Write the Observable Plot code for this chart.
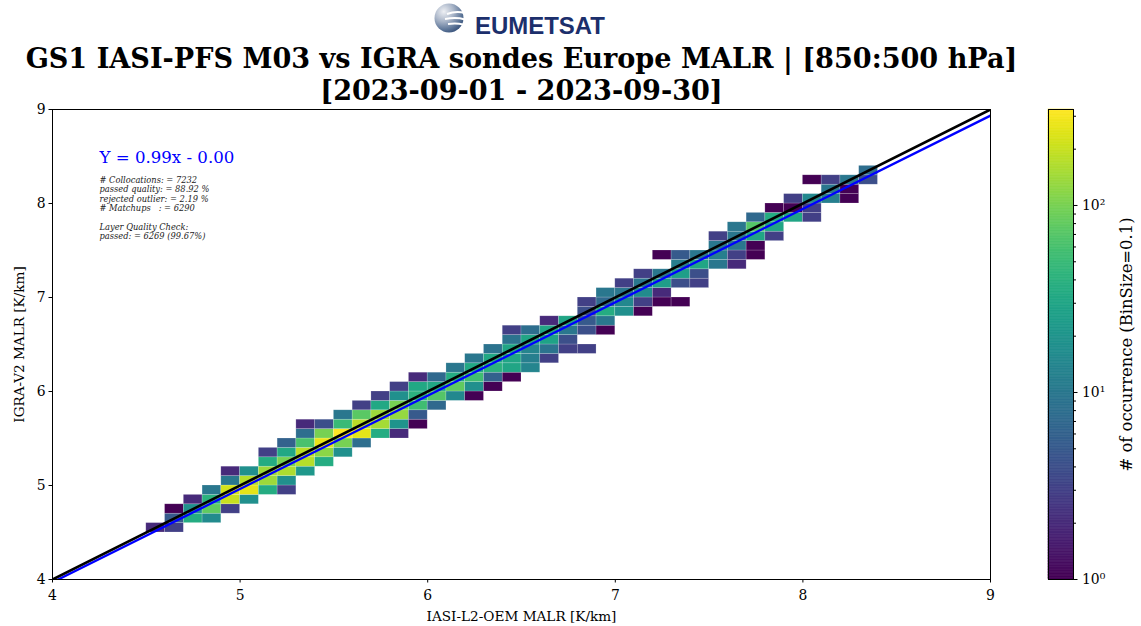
<!DOCTYPE html>
<html>
<head>
<meta charset="utf-8">
<script src="https://cdn.jsdelivr.net/npm/d3@7"></script>
<script src="https://cdn.jsdelivr.net/npm/@observablehq/plot@0.6"></script>
<style>
html, body { margin:0; padding:0; background:#fff; }
#wrap { position:relative; width:1141px; height:626px; overflow:hidden; background:#fff; }
#wrap > svg { position:absolute; top:0; }
#wrap text { white-space: pre; }
</style>
</head>
<body>
<div id="wrap">
<svg id="logo" width="200" height="42" viewBox="0 0 200 42" style="left:428px;top:0px;z-index:2">
  <defs>
    <radialGradient id="globe" cx="0.32" cy="0.28" r="0.85">
      <stop offset="0" stop-color="#eef0f4"/>
      <stop offset="0.4" stop-color="#a9b5c8"/>
      <stop offset="0.75" stop-color="#5a7396"/>
      <stop offset="1" stop-color="#2b4570"/>
    </radialGradient>
  </defs>
  <circle cx="21" cy="18" r="14.5" fill="url(#globe)"/>
  <path d="M19 14 Q28 10.5 37 13 M17 19 Q28 17 37 19.5 M20 24 Q29 23 35 24.5" fill="none" stroke="#fff" stroke-width="2"/>
  <text x="47" y="34" font-family="Liberation Sans, Arial, sans-serif" font-weight="bold" font-size="24" fill="#1c2f6c" textLength="130" lengthAdjust="spacingAndGlyphs">EUMETSAT</text>
</svg>
</div>
<script>
// ---------------- data ----------------
const xColumns = [4.5, 4.6, 4.7, 4.8, 4.9, 5.0, 5.1, 5.2, 5.3, 5.4, 5.5, 5.6, 5.7, 5.8, 5.9,
                  6.0, 6.1, 6.2, 6.3, 6.4, 6.5, 6.6, 6.7, 6.8, 6.9, 7.0, 7.1, 7.2, 7.3, 7.4,
                  7.5, 7.6, 7.7, 7.8, 7.9, 8.0, 8.1, 8.2, 8.3];
const yRows = [
  [4.5],
  [4.5, 4.6, 4.7],
  [4.6, 4.7, 4.8],
  [4.6, 4.7, 4.8, 4.9],
  [4.7, 4.8, 4.9, 5.0, 5.1],
  [4.8, 4.9, 5.0, 5.1],
  [4.9, 5.0, 5.1, 5.2, 5.3],
  [4.9, 5.0, 5.1, 5.2, 5.3, 5.4],
  [5.1, 5.2, 5.3, 5.4, 5.5, 5.6],
  [5.2, 5.3, 5.4, 5.5, 5.6],
  [5.3, 5.4, 5.5, 5.6, 5.7],
  [5.4, 5.5, 5.6, 5.7, 5.8],
  [5.5, 5.6, 5.7, 5.8, 5.9],
  [5.5, 5.6, 5.7, 5.8, 5.9, 6.0],
  [5.6, 5.7, 5.8, 5.9, 6.0, 6.1],
  [5.8, 5.9, 6.0, 6.1],
  [5.9, 6.0, 6.1, 6.2],
  [5.9, 6.0, 6.1, 6.2, 6.3],
  [6.0, 6.1, 6.2, 6.3, 6.4],
  [6.1, 6.2, 6.3, 6.4, 6.5, 6.6],
  [6.2, 6.3, 6.4, 6.5, 6.6],
  [6.3, 6.4, 6.5, 6.6, 6.7],
  [6.4, 6.5, 6.6, 6.7],
  [6.4, 6.6, 6.7, 6.8, 6.9],
  [6.6, 6.7, 6.8, 6.9, 7.0],
  [6.8, 6.9, 7.0, 7.1],
  [6.8, 6.9, 7.0, 7.1, 7.2],
  [6.9, 7.0, 7.1, 7.2, 7.4],
  [6.9, 7.1, 7.2, 7.3, 7.4],
  [7.1, 7.2, 7.3, 7.4],
  [7.3, 7.4, 7.5, 7.6],
  [7.3, 7.4, 7.5, 7.6, 7.7],
  [7.4, 7.5, 7.6, 7.7, 7.8],
  [7.6, 7.7, 7.8, 7.9],
  [7.8, 7.9, 8.0],
  [7.8, 7.9, 8.0, 8.2],
  [8.0, 8.1, 8.2],
  [8.0, 8.1, 8.2],
  [8.2, 8.3]
];
const binCounts = [
  [2],
  [3, 5, 1],
  [35, 18, 2],
  [16, 80, 40, 10],
  [3, 200, 220, 10, 2],
  [18, 260, 170, 18],
  [35, 140, 140, 35, 3],
  [3, 18, 160, 100, 32, 6],
  [22, 170, 180, 60, 8, 2],
  [35, 120, 270, 100, 4],
  [18, 100, 326, 50, 10],
  [8, 260, 180, 75, 3],
  [35, 150, 140, 32, 3],
  [2, 20, 130, 100, 18, 3],
  [1, 5, 55, 40, 32, 2],
  [7, 70, 32, 7],
  [15, 80, 35, 10],
  [1, 18, 55, 32, 10],
  [1, 6, 40, 32, 9],
  [1, 30, 30, 30, 9, 3],
  [14, 12, 14, 30, 8],
  [3, 9, 28, 30, 2],
  [3, 4, 10, 30],
  [3, 4, 5, 4, 3],
  [1, 10, 35, 7, 10],
  [18, 15, 10, 3],
  [1, 3, 16, 10, 3],
  [1, 2, 25, 10, 1],
  [1, 4, 25, 12, 5],
  [3, 4, 30, 10],
  [10, 12, 10, 3],
  [2, 3, 10, 10, 10],
  [1, 1, 30, 70, 7],
  [3, 30, 35, 1],
  [30, 1, 3],
  [3, 3, 15, 1],
  [12, 10, 3],
  [1, 1, 10],
  [4, 8]
];
const binSize = 0.1;
const axisTicks = [4, 5, 6, 7, 8, 9];
const axisDomain = [4, 9];
const fitSlope = 0.993;      // drawn regression (label rounds to 0.99)
const fitIntercept = -0.002; // label rounds to -0.00
const lineEnds = [4, 9];
const colorMin = 1;
const colorMax = 326;
const cbMajorTicks = [1, 10, 100];
const cbMinorTicks = [2, 3, 4, 5, 6, 7, 8, 9, 20, 30, 40, 50, 60, 70, 80, 90, 200, 300];
const titleLines = ["GS1 IASI-PFS M03 vs IGRA sondes Europe MALR | [850:500 hPa]",
                    "[2023-09-01 - 2023-09-30]"];
const equationText = "Y = 0.99x - 0.00";
const statsLines = ["# Collocations: = 7232",
                    "passed quality: = 88.92 %",
                    "rejected outlier: = 2.19 %",
                    "# Matchups   : = 6290",
                    "",
                    "Layer Quality Check:",
                    "passed: = 6269 (99.67%)"];
const xLabel = "IASI-L2-OEM MALR [K/km]";
const yLabel = "IGRA-V2 MALR [K/km]";
const cbLabel = "# of occurrence (BinSize=0.1)";

// ---------------- build ----------------
const cells = [];
xColumns.forEach((x, i) => yRows[i].forEach((y, j) => cells.push({
  x1: x, x2: x + binSize, y1: y, y2: y + binSize, n: binCounts[i][j]
})));

const font = "DejaVu Serif";
const colorOpts = {type: "log", scheme: "viridis", domain: [colorMin, colorMax]};

const main = Plot.plot({
  width: 1141, height: 626,
  marginLeft: 52, marginRight: 151, marginTop: 109, marginBottom: 47,
  style: {fontFamily: font, fontSize: "13.9px", background: "transparent", color: "black", overflow: "visible"},
  x: {domain: axisDomain, label: null},
  y: {domain: axisDomain, label: null},
  color: colorOpts,
  marks: [
    Plot.rect(cells, {x1: "x1", x2: "x2", y1: "y1", y2: "y2", fill: "n", inset: 0,
                      stroke: "#ffffff", strokeOpacity: 0.3, strokeWidth: 0.6}),
    Plot.line(lineEnds, {x: d => d, y: d => fitSlope * d + fitIntercept, stroke: "#0000ff", strokeWidth: 2.3, clip: true}),
    Plot.line(lineEnds, {x: d => d, y: d => d, stroke: "black", strokeWidth: 2.6, clip: true}),
    Plot.frame({stroke: "black", strokeWidth: 1}),
    Plot.axisX({ticks: axisTicks, tickSize: 3.5, tickPadding: 7, tickFormat: d => String(d), label: null}),
    Plot.axisY({ticks: axisTicks, tickSize: 3.5, tickPadding: 3.5, tickFormat: d => String(d), label: null}),
    Plot.text([equationText], {frameAnchor: "top-left", dx: 47, dy: 53, lineAnchor: "bottom", textAnchor: "start",
                               fill: "#0000ff", fontSize: 16.6}),
    Plot.text([statsLines.join("\n")], {frameAnchor: "top-left", dx: 47, dy: 67, lineAnchor: "top", textAnchor: "start",
                                        fontSize: 8.3, fontStyle: "italic", lineHeight: 1.12, fill: "#222"}),
    Plot.text([titleLines[0]], {frameAnchor: "top", dy: -42, lineAnchor: "bottom", fontSize: 27.1, fontWeight: "bold"}),
    Plot.text([titleLines[1]], {frameAnchor: "top", dy: -10, lineAnchor: "bottom", fontSize: 27.1, fontWeight: "bold"}),
    Plot.text([xLabel], {frameAnchor: "bottom", dy: 41, lineAnchor: "bottom", textAnchor: "middle", fontSize: 13.6}),
    Plot.text([yLabel], {frameAnchor: "left", dx: -29, rotate: -90, lineAnchor: "bottom", textAnchor: "middle", fontSize: 13.6})
  ]
});

const steps = 300;
const logMax = Math.log10(colorMax);
const ramp = d3.range(steps).map(i => ({
  y1: Math.pow(10, logMax * i / steps),
  y2: Math.pow(10, logMax * (i + 1) / steps),
  v: Math.pow(10, logMax * (i + 0.5) / steps)
}));
const sup = {0: "\u2070", 1: "\u00b9", 2: "\u00b2"};

const cb = Plot.plot({
  width: 111, height: 626,
  marginLeft: 18, marginRight: 68, marginTop: 109, marginBottom: 47,
  style: {fontFamily: font, fontSize: "13.9px", background: "transparent", color: "black", overflow: "visible"},
  x: {domain: [0, 1], axis: null, label: null},
  y: {type: "log", domain: [colorMin, colorMax], axis: null, label: null},
  color: colorOpts,
  marks: [
    Plot.rect(ramp, {x1: 0, x2: 1, y1: "y1", y2: "y2", fill: "v", stroke: "v", strokeWidth: 0.6, inset: 0}),
    Plot.frame({stroke: "black", strokeWidth: 1}),
    Plot.axisY({anchor: "right", ticks: cbMinorTicks, tickSize: 2, tickFormat: () => "", label: null}),
    Plot.axisY({anchor: "right", ticks: cbMajorTicks, tickSize: 3.5, tickPadding: 5,
                tickFormat: d => "10" + sup[Math.round(Math.log10(d))], label: null}),
    Plot.text([cbLabel], {frameAnchor: "right", dx: 58, rotate: -90, lineAnchor: "bottom", textAnchor: "middle", fontSize: 16.4})
  ]
});

const wrap = document.getElementById("wrap");
main.style.left = "0px";
wrap.insertBefore(main, wrap.firstChild);
cb.style.left = "1030px";
wrap.appendChild(cb);
</script>
</body>
</html>
